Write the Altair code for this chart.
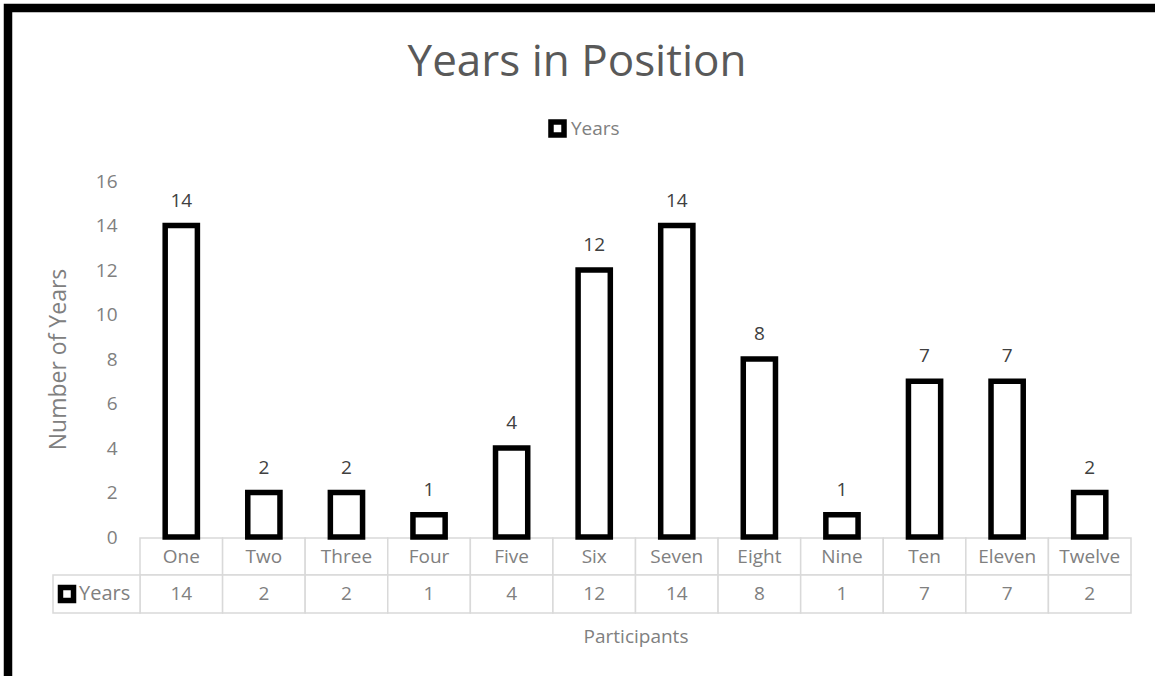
import altair as alt
import pandas as pd

# Participants and their years in position
participants = ["One", "Two", "Three", "Four", "Five", "Six",
                "Seven", "Eight", "Nine", "Ten", "Eleven", "Twelve"]
years = [14, 2, 2, 1, 4, 12, 14, 8, 1, 7, 7, 2]
y_ticks = [0, 2, 4, 6, 8, 10, 12, 14, 16]
series_name = "Years"
chart_title = "Years in Position"

df = pd.DataFrame({"participant": participants, "years": years, "series": series_name})

GRAY = "#808080"
DARK = "#404040"
GRID = "#d9d9d9"
FONT = "Open Sans"

W, H = 991, 356

x_enc = alt.X("participant:N", sort=participants,
              scale=alt.Scale(paddingInner=0, paddingOuter=0),
              axis=alt.Axis(title="Participants", labels=False, domain=False, ticks=False,
                            titlePadding=90, titleFontSize=19, titleColor=GRAY,
                            titleFontWeight="normal", titleFont=FONT))

base = alt.Chart(df)
one_row = pd.DataFrame({"k": [0]})

# thick outer frame
frame = alt.Chart(one_row).mark_rect(
    fill="white", fillOpacity=0, stroke="black", strokeWidth=8.5
).encode(x=alt.value(-132), x2=alt.value(1080), y=alt.value(-173), y2=alt.value(540))

# chart heading
heading = alt.Chart(pd.DataFrame({"t": [chart_title]})).mark_text(
    fontSize=44, color="#595959", font=FONT, align="center", baseline="alphabetic"
).encode(x=alt.value(437), y=alt.value(-105), text="t:N")

# data table cells
header_cells = base.mark_rect(fill="white", stroke=GRID, strokeWidth=1.5).encode(
    x=x_enc, y=alt.value(357), y2=alt.value(394))
value_cells = base.mark_rect(fill="white", stroke=GRID, strokeWidth=1.5).encode(
    x=x_enc, y=alt.value(394), y2=alt.value(432))
key_cell = alt.Chart(one_row).mark_rect(
    fill="white", stroke=GRID, strokeWidth=1.5
).encode(x=alt.value(-87), x2=alt.value(0), y=alt.value(394), y2=alt.value(432))

bars = base.mark_bar(
    width=alt.RelativeBandSize(0.39), stroke="black", strokeWidth=5.5
).encode(
    x=x_enc,
    y=alt.Y("years:Q", scale=alt.Scale(domain=[0, 16]),
            axis=alt.Axis(values=y_ticks, title="Number of Years", domain=False, ticks=False,
                          grid=False, labelPadding=23, labelFontSize=19, labelColor=GRAY,
                          labelFont=FONT, titleFont=FONT, titleFontSize=23, titleColor=GRAY,
                          titleFontWeight="normal", titlePadding=25)),
    fill=alt.Fill("series:N", scale=alt.Scale(range=["white"]),
                  legend=alt.Legend(title=None, orient="none", legendX=408, legendY=-62,
                                    symbolType="square", symbolSize=170,
                                    symbolStrokeColor="black", symbolStrokeWidth=5.5,
                                    symbolFillColor="white", labelFontSize=19,
                                    labelColor=GRAY, labelFont=FONT, labelOffset=4,
                                    padding=0)),
)

value_labels = base.mark_text(
    baseline="bottom", dy=-15, fontSize=19, color=DARK, font=FONT
).encode(x=x_enc, y="years:Q", text="years:Q")

header_text = base.mark_text(fontSize=19, color=GRAY, font=FONT, baseline="middle").encode(
    x=x_enc, y=alt.value(376), text="participant:N")
value_text = base.mark_text(fontSize=19, color=GRAY, font=FONT, baseline="middle").encode(
    x=x_enc, y=alt.value(413), text="years:Q")

key_symbol = alt.Chart(one_row).mark_point(
    shape="square", size=170, filled=False, stroke="black", strokeWidth=5.5, fill="white",
    fillOpacity=1
).encode(x=alt.value(-73), y=alt.value(413))
key_text = alt.Chart(pd.DataFrame({"label": [series_name]})).mark_text(
    fontSize=20, color=GRAY, font=FONT, align="left", baseline="middle"
).encode(x=alt.value(-61), y=alt.value(413), text="label:N")

chart = alt.layer(
    frame, heading, header_cells, value_cells, key_cell, bars, value_labels,
    header_text, value_text, key_symbol, key_text
).properties(
    width=W, height=H,
    autosize=alt.AutoSizeParams(type="none"),
    padding={"left": 140, "top": 181, "right": 24, "bottom": 139},
).configure(
    font=FONT, background="white"
).configure_view(stroke="transparent", strokeWidth=0)

chart.save("out.html", embed_options={"renderer": "svg", "actions": False})
